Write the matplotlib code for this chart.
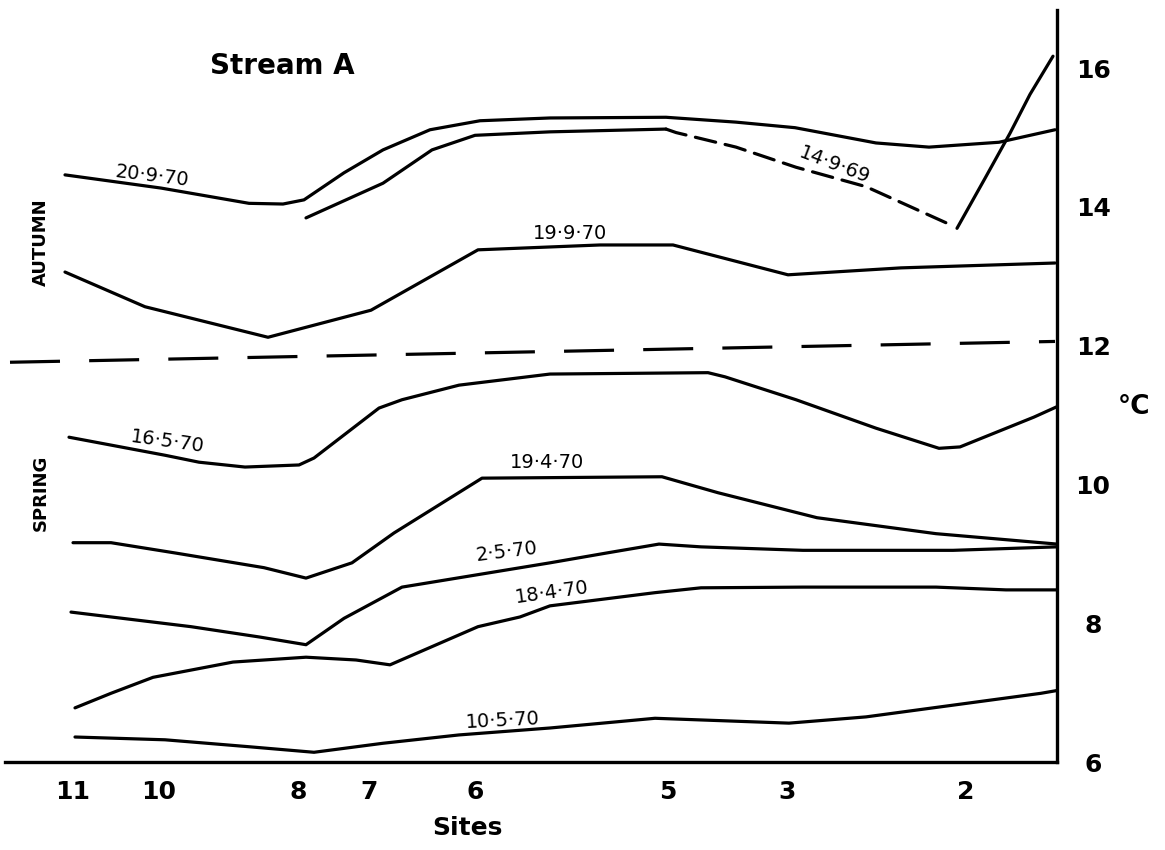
import numpy as np
import matplotlib
matplotlib.use("Agg")
import matplotlib.pyplot as plt

plt.rcParams['font.family'] = ['DejaVu Sans']
plt.rcParams['lines.scale_dashes'] = False

# ---------------- data (distance along stream, temperature degC) ----------------
site_names = ['11', '10', '8', '7', '6', '5', '3', '2']
site_pos = [0.68, 1.54, 2.93, 3.64, 4.70, 6.63, 7.82, 9.61]

# autumn
x_20970 = [0.60, 1.56, 2.44, 2.78, 2.99, 3.39, 3.78, 4.25, 4.75, 5.45, 6.61, 7.31, 7.90, 8.71, 9.24, 9.94, 10.50]
t_20970 = [14.46, 14.27, 14.05, 14.04, 14.10, 14.49, 14.82, 15.11, 15.24, 15.28, 15.29, 15.22, 15.14, 14.92, 14.86, 14.93, 15.11]

x_14969 = [3.01, 3.78, 4.27, 4.70, 5.45, 6.61, 6.71, 7.31, 7.91, 8.61, 9.41, 9.52, 9.80, 10.05, 10.25, 10.48]
t_14969 = [13.84, 14.34, 14.82, 15.03, 15.08, 15.12, 15.07, 14.86, 14.57, 14.29, 13.77, 13.69, 14.41, 15.06, 15.62, 16.17]
dash_from, dash_to = 5, 11      # indices of the dashed stretch

x_19970 = [0.60, 1.40, 2.63, 3.66, 4.73, 5.95, 6.68, 7.83, 8.96, 10.50]
t_19970 = [13.06, 12.56, 12.12, 12.51, 13.38, 13.45, 13.45, 13.02, 13.12, 13.19]

# autumn / spring divider
x_div = [0.05, 10.50]
t_div = [11.76, 12.06]

# spring
x_16570 = [0.64, 1.60, 1.94, 2.40, 2.94, 3.09, 3.74, 3.97, 4.54, 5.45, 7.03, 7.20, 7.91, 8.71, 9.34, 9.55, 10.29, 10.52]
t_16570 = [10.68, 10.42, 10.32, 10.25, 10.28, 10.38, 11.10, 11.22, 11.43, 11.59, 11.61, 11.55, 11.22, 10.81, 10.52, 10.54, 10.97, 11.12]

x_19470 = [0.68, 1.06, 1.71, 2.59, 3.01, 3.47, 3.89, 4.77, 6.57, 7.13, 8.12, 9.31, 10.52]
t_19470 = [9.16, 9.16, 9.01, 8.80, 8.65, 8.87, 9.30, 10.09, 10.11, 9.88, 9.52, 9.29, 9.14]

x_2570 = [0.66, 1.86, 2.55, 3.01, 3.39, 3.97, 5.45, 6.01, 6.54, 6.96, 7.98, 9.48, 10.52]
t_2570 = [8.16, 7.95, 7.80, 7.69, 8.07, 8.52, 8.87, 9.01, 9.14, 9.10, 9.05, 9.05, 9.10]

x_18470 = [0.70, 1.06, 1.48, 2.28, 3.01, 3.51, 3.85, 4.73, 5.15, 5.45, 6.50, 6.96, 7.98, 9.31, 10.01, 10.52]
t_18470 = [6.78, 6.99, 7.22, 7.44, 7.51, 7.47, 7.40, 7.95, 8.09, 8.25, 8.44, 8.51, 8.52, 8.52, 8.48, 8.48]

x_10570 = [0.70, 1.60, 2.44, 3.09, 3.78, 4.54, 5.45, 6.50, 7.84, 8.61, 10.36, 10.52]
t_10570 = [6.36, 6.32, 6.22, 6.14, 6.27, 6.39, 6.49, 6.63, 6.56, 6.65, 6.99, 7.03]

# curve labels: text, x, y, rotation
curve_labels = [
    ('20·9·70', 1.47, 14.44, -7),
    ('14·9·69', 8.30, 14.60, -21),
    ('19·9·70', 5.65, 13.62, 0),
    ('16·5·70', 1.62, 10.62, -8),
    ('19·4·70', 5.42, 10.31, 0),
    ('2·5·70', 5.02, 9.03, 7),
    ('18·4·70', 5.47, 8.45, 8),
    ('10·5·70', 4.98, 6.60, 3),
]

y_ticks = [6, 8, 10, 12, 14, 16]

# ---------------- plot ----------------
fig = plt.figure(figsize=(11.65, 8.5), dpi=100)
ax = fig.add_axes([5 / 1165, 88 / 850, 1052 / 1165, 752 / 850])
ax.set_xlim(0, 10.52)
ax.set_ylim(6, 6 + 752 / 69.4)

lw = 2.3
kw = dict(color='black', lw=lw, solid_capstyle='round', solid_joinstyle='round')
ax.plot(x_20970, t_20970, **kw)
ax.plot(x_14969[:dash_from + 1], t_14969[:dash_from + 1], **kw)
ax.plot(x_14969[dash_from:dash_to], t_14969[dash_from:dash_to], color='black', lw=lw,
        dashes=(15, 7), dash_capstyle='round')
ax.plot(x_14969[dash_to:], t_14969[dash_to:], **kw)
ax.plot(x_19970, t_19970, **kw)
ax.plot(x_div, t_div, color='black', lw=lw, dashes=(36, 21))
for xs, ts in [(x_16570, t_16570), (x_19470, t_19470), (x_2570, t_2570),
               (x_18470, t_18470), (x_10570, t_10570)]:
    ax.plot(xs, ts, **kw)

for txt, x, y, rot in curve_labels:
    ax.text(x, y, txt, fontsize=14, rotation=rot, ha='center', va='center',
            rotation_mode='anchor')

# axes styling
for s in ['top', 'left']:
    ax.spines[s].set_visible(False)
ax.spines['right'].set_linewidth(2.4)
ax.spines['bottom'].set_linewidth(2.4)

ax.set_xticks(site_pos)
ax.set_xticklabels(site_names, fontsize=18, fontweight='bold')
ax.tick_params(axis='x', length=0, pad=13)

ax.yaxis.tick_right()
ax.set_yticks(y_ticks)
ax.set_yticklabels([str(v) for v in y_ticks], fontsize=18, fontweight='bold')
ax.tick_params(axis='y', length=0, pad=26)
for lab in ax.get_yticklabels():
    lab.set_horizontalalignment('center')

ax.set_xlabel('Sites', fontsize=18, fontweight='bold')
ax.xaxis.set_label_coords((467 - 5) / 1052, -0.072)
ax.text(1.073, 0.472, '°C', transform=ax.transAxes, fontsize=19, fontweight='bold',
        ha='center', va='center')

ax.text(2.77, 16.03, 'Stream A', fontsize=20, fontweight='bold', ha='center', va='center')
ax.text(0.36, 13.49, 'AUTUMN', fontsize=13, fontweight='bold', rotation=90,
        ha='center', va='center')
ax.text(0.36, 9.88, 'SPRING', fontsize=13, fontweight='bold', rotation=90,
        ha='center', va='center')

fig.savefig('out.png', dpi=100)
